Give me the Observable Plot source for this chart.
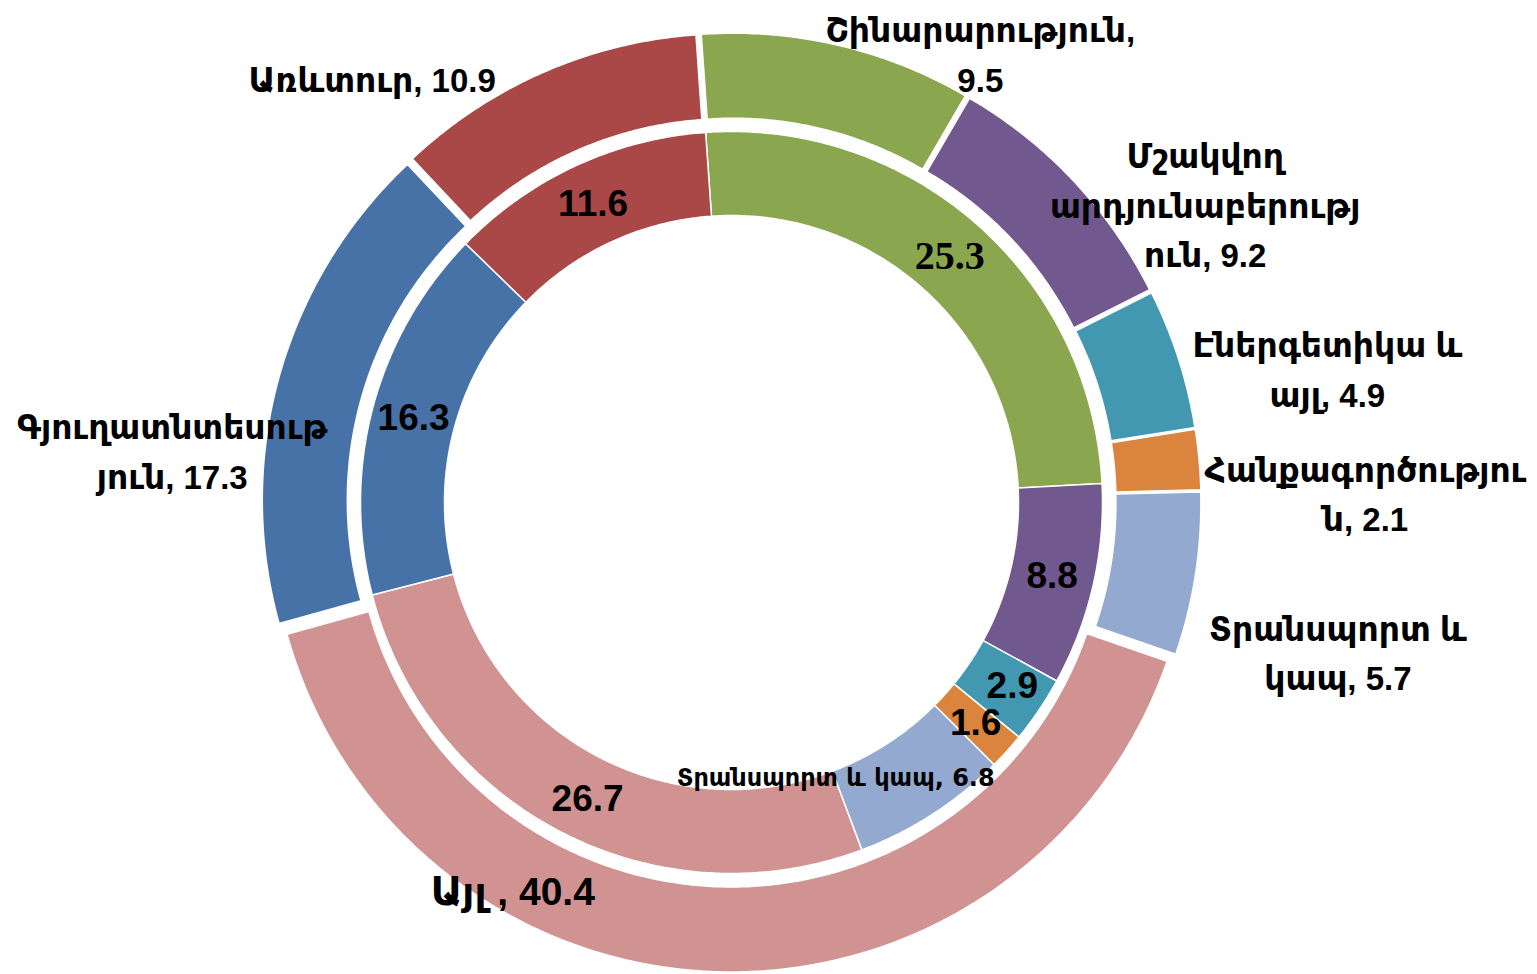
<!DOCTYPE html>
<html><head><meta charset="utf-8">
<script src="https://cdn.jsdelivr.net/npm/d3@7"></script>
<script src="https://cdn.jsdelivr.net/npm/@observablehq/plot@0.6"></script>
<style>html,body{margin:0;padding:0;background:#fff;overflow:hidden}</style>
</head><body><div id="chart"></div>
<script>
// ---- data ----
const categories = ["Շինարարություն", "Մշակվող արդյունաբերություն", "Էներգետիկա և այլ", "Հանքագործություն", "Տրանսպորտ և կապ", "Այլ", "Գյուղատնտեսություն", "Առևտուր"];
const outerValues = [9.5, 9.2, 4.9, 2.1, 5.7, 40.4, 17.3, 10.9];
const innerValues = [25.3, 8.8, 2.9, 1.6, 6.8, 26.7, 16.3, 11.6];
const outerLabels = ["Շինարարություն,\n9.5", "Մշակվող\nարդյունաբերությ\nուն, 9.2", "Էներգետիկա և\nայլ, 4.9", "Հանքագործությու\nն, 2.1", "Տրանսպորտ և\nկապ, 5.7", "Այլ , 40.4", "Գյուղատնտեսութ\nյուն, 17.3", "Առևտուր, 10.9"];
const innerLabels = ["25.3", "8.8", "2.9", "1.6", "Տրանսպորտ և կապ, 6.8", "26.7", "16.3", "11.6"];
const colors = ["#8AA64F", "#71588F", "#4298B0", "#DB843D", "#93A9D0", "#D19392", "#4672A8", "#A94846"];

// ---- layout ----
const W = 1537, H = 974, cx = 731, cy = 502;
const startAngle = -4;
const inner = {r0: 287, r1: 371};
const outer = {r0: 376, r1: 461, explode: 8.5};
const rad = d => d * Math.PI / 180;
const polar = (a, r) => [r * Math.sin(rad(a)), r * Math.cos(rad(a))];

function slices(values) {
  const total = d3.sum(values);
  let acc = startAngle;
  return values.map((v, i) => {
    const a0 = acc, a1 = acc + v / total * 360;
    acc = a1;
    return {i, cat: categories[i], a0, a1, mid: (a0 + a1) / 2};
  });
}
function ring(sl, r0, r1, explode, tag) {
  const pts = [];
  for (const s of sl) {
    const [ox, oy] = polar(s.mid, explode);
    const n = Math.max(2, Math.ceil((s.a1 - s.a0) / 0.5));
    for (let k = 0; k <= n; k++) {
      const a = s.a0 + (s.a1 - s.a0) * k / n;
      const [x, y] = polar(a, r1);
      pts.push({key: tag + s.i, cat: s.cat, x: x + ox, y: y + oy});
    }
    for (let k = n; k >= 0; k--) {
      const a = s.a0 + (s.a1 - s.a0) * k / n;
      const [x, y] = polar(a, r0);
      pts.push({key: tag + s.i, cat: s.cat, x: x + ox, y: y + oy});
    }
  }
  return pts;
}

const outerSl = slices(outerValues);
const innerSl = slices(innerValues);
const pts = [...ring(innerSl, inner.r0, inner.r1, 0, "in"), ...ring(outerSl, outer.r0, outer.r1, outer.explode, "out")];

// label placement: polar anchor at slice mid-angle + manual nudges (screen px, like dragged labels)
const outerNudge = [[140, 16], [124, 28], [139, 11], [156, 32], [132, 74], [-204, -90], [-97, 75], [-167, 13]];
const outerLab = outerSl.map((s, i) => {
  const [x, y] = polar(s.mid, 480);
  return {text: outerLabels[i], x: x + outerNudge[i][0], y: y - outerNudge[i][1], i};
});
const innerNudge = {2: [8, 0], 4: [-74, -1], 5: [8, 5]};
const innerLab = innerSl.map((s, i) => {
  const [x, y] = polar(s.mid, (inner.r0 + inner.r1) / 2);
  const n = innerNudge[i] || [0, 0];
  return {text: innerLabels[i], x: x + n[0], y: y - n[1], i};
});

const mixed = "'Liberation Sans', 'DejaVu Sans', 'Noto Sans Armenian', sans-serif";
const sans = "'DejaVu Sans', 'Noto Sans Armenian', sans-serif";
const chart = Plot.plot({
  width: W, height: H, margin: 0,
  x: {domain: [-cx, W - cx], axis: null},
  y: {domain: [-(H - cy), cy], axis: null},
  color: {domain: categories, range: colors},
  style: {background: "#fff"},
  marks: [
    Plot.line(pts, {x: "x", y: "y", z: "key", fill: "cat", stroke: "white", strokeWidth: 1.5, curve: "linear-closed"}),
    Plot.text(outerLab.filter(d => d.i !== 5), {x: "x", y: "y", text: "text", fontFamily: mixed, fontWeight: "bold", fontSize: 33, lineHeight: 1.5, fill: "#000"}),
    Plot.text(outerLab.filter(d => d.i === 5), {x: "x", y: "y", text: "text", fontFamily: mixed, fontWeight: "bold", fontSize: 39, fill: "#000"}),
    Plot.text(innerLab.filter(d => d.i !== 0 && d.i !== 4), {x: "x", y: "y", text: "text", fontFamily: "'Liberation Sans', Arial, sans-serif", fontWeight: "bold", fontSize: 37, fill: "#000"}),
    Plot.text(innerLab.filter(d => d.i === 0), {x: "x", y: "y", text: "text", fontFamily: "'Liberation Serif', serif", fontWeight: "bold", fontSize: 40, fill: "#000"}),
    Plot.text(innerLab.filter(d => d.i === 4), {x: "x", y: "y", text: "text", fontFamily: sans, fontWeight: "bold", fontSize: 24, fill: "#000"})
  ]
});
document.getElementById("chart").appendChild(chart);
</script>
</body></html>
